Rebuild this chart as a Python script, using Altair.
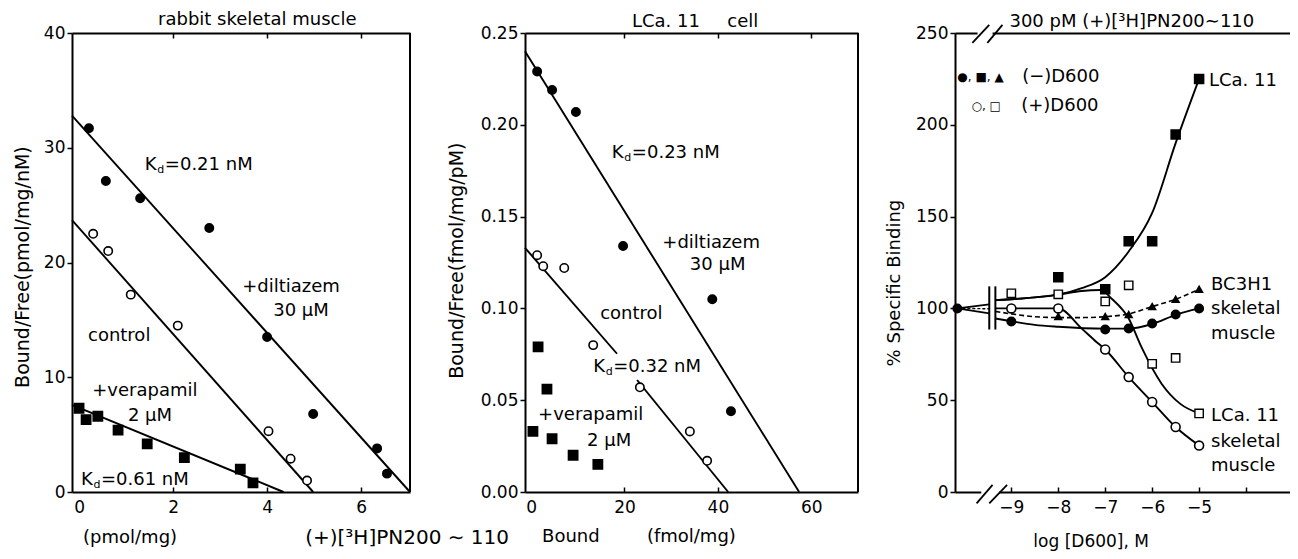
import altair as alt
import pandas as pd

FONT = "DejaVu Sans"
W, H = 1282, 543
Y_RANGE = [484, 25]

# ===================== DATA =====================
# --- left panel: rabbit skeletal muscle (Scatchard) ---
L_dil_x = [0.21, 0.57, 1.30, 2.77, 4.00, 4.98, 6.34, 6.55]
L_dil_y = [31.7, 27.1, 25.6, 23.0, 13.5, 6.8, 3.8, 1.6]
L_ctl_x = [0.30, 0.62, 1.10, 2.10, 4.03, 4.50, 4.85]
L_ctl_y = [22.5, 21.0, 17.2, 14.5, 5.3, 2.9, 1.0]
L_ver_x = [0.00, 0.15, 0.40, 0.83, 1.45, 2.24, 3.43, 3.70]
L_ver_y = [7.3, 6.3, 6.6, 5.4, 4.2, 3.0, 2.0, 0.8]
L_fit_dil = ([-0.15, 7.04], [32.8, 0.0])
L_fit_ctl = ([-0.15, 4.98], [23.7, 0.0])
L_fit_ver = ([-0.15, 4.35], [7.6, 0.0])
L_kd = ["=0.21 nM", "=0.61 nM"]

# --- middle panel: LCa. 11 cell (Scatchard) ---
M_dil_x = [1.3, 4.5, 9.6, 19.7, 38.8, 42.8]
M_dil_y = [0.229, 0.219, 0.207, 0.134, 0.105, 0.044]
M_ctl_x = [1.3, 2.6, 7.1, 13.3, 23.3, 34.0, 37.7]
M_ctl_y = [0.129, 0.123, 0.122, 0.080, 0.057, 0.033, 0.017]
M_ver_x = [0.4, 1.5, 3.4, 4.5, 9.0, 14.3]
M_ver_y = [0.033, 0.079, 0.056, 0.029, 0.020, 0.015]
M_fit_dil = ([-1.3, 57.4], [0.240, 0.0])
M_fit_ctl_a = ([-1.3, 18.4], [0.133, 0.0753])
M_fit_ctl_b = ([22.7, 42.2], [0.061, 0.0])
M_kd = ["=0.23 nM", "=0.32 nM"]

# --- right panel: % specific binding vs log[D600] ---
R_ctrl_x = [-10.15]
R_ctrl_y = [100]
R_skm_minus_x = [-9, -7, -6.5, -6, -5.5, -5]
R_skm_minus_y = [92.9, 88.5, 89.0, 91.8, 96.7, 100.0]
R_bc3_x = [-8, -7, -6.5, -6, -5.5, -5]
R_bc3_y = [95.6, 95.6, 96.7, 101.0, 105.0, 110.4]
R_lca_minus_x = [-8, -7, -6.5, -6, -5.5, -5]
R_lca_minus_y = [117.0, 110.4, 136.6, 136.6, 194.7, 225.0]
R_lca_plus_x = [-9, -8, -7, -6.5, -6, -5.5, -5]
R_lca_plus_y = [108.2, 107.7, 103.8, 112.6, 69.8, 73.0, 42.8]
R_skm_plus_x = [-9, -8, -7, -6.5, -6, -5.5, -5]
R_skm_plus_y = [100.0, 100.0, 77.6, 62.6, 49.0, 35.4, 25.3]
# fitted curves
R_c_lca_minus = ([-9.34, -9, -8.5, -8, -7.5, -7, -6.5, -6, -5.5, -5],
                 [104.5, 105, 106, 107.5, 111, 117, 131, 152, 190, 225])
R_c_lca_plus = ([-9.34, -9, -8.5, -8, -7.5, -7.1, -6.85, -6.5, -6.23, -5.8, -5.4, -5],
                [104.5, 105, 106, 107.5, 109.5, 110, 105, 94.5, 79, 59, 48, 42.8])
R_c_skm_plus = ([-9.34, -9, -8, -7.5, -7.2, -7, -6.5, -6, -5.5, -5],
                [100, 100, 100, 89, 82, 77.6, 62.6, 49, 35.4, 25.3])
R_c_skm_minus = ([-9.34, -9, -8.5, -8, -7, -6.5, -6, -5.5, -5],
                 [94.5, 93, 91, 90, 89, 89, 91.5, 96.5, 100])
R_c_bc3 = ([-9.34, -9, -8.5, -8, -7.5, -7, -6.5, -6, -5.5, -5],
           [98.4, 97, 95.5, 95, 95, 95.5, 97, 101, 105, 110.4])
R_fan_solid = [([-10.15, -9.47], [100, 102.2]), ([-10.15, -9.47], [100, 97.3])]
R_fan_dash = [([-10.15, -9.47], [100, 99.8])]
R_break_bars_x = [-9.47, -9.34]
R_break_bars_y = [88.5, 112.0]
R_top_slash = [([-9.83, -9.47], [244.6, 254.4]), ([-9.51, -9.19], [244.6, 254.4])]
R_bot_slash = [([-9.74, -9.40], [-6.2, 3.9]), ([-9.47, -9.09], [-6.2, 3.9])]
R_top_gap = ([-9.72, -9.40], [250, 250])
R_bot_gap = ([-9.64, -9.26], [0, 0])

# tick values
L_xt, L_yt = [0, 2, 4, 6], [0, 10, 20, 30, 40]
M_xt, M_yt = [0, 20, 40, 60], [0, 0.05, 0.10, 0.15, 0.20, 0.25]
R_xt, R_xticks, R_yt = [-9, -8, -7, -6, -5], [-9, -8, -7, -6, -5, -4], [0, 50, 100, 150, 200, 250]


# ===================== HELPERS =====================
def sc(domain, rng):
    return alt.Scale(domain=domain, range=rng, nice=False, zero=False)


def XY(P, xf="x", yf="y"):
    xs, ys, xa, ya = P
    return {"x": alt.X(f"{xf}:Q", scale=xs, axis=xa), "y": alt.Y(f"{yf}:Q", scale=ys, axis=ya)}


def points(x, y, shape, filled, size, P, sw=1.6):
    df = pd.DataFrame({"x": x, "y": y})
    return alt.Chart(df).mark_point(shape=shape, filled=True, fill="black" if filled else "white",
                                    stroke="black", strokeWidth=sw, size=size, opacity=1).encode(**XY(P))


def lines(segs, P, dash=None, interp="linear", width=1.9, color="black"):
    rows = []
    for i, (xs_, ys_) in enumerate(segs):
        for a, b in zip(xs_, ys_):
            rows.append({"x": a, "y": b, "seg": i})
    kw = dict(color=color, strokeWidth=width, interpolate=interp)
    if dash:
        kw["strokeDash"] = dash
    return alt.Chart(pd.DataFrame(rows)).mark_line(**kw).encode(**XY(P), detail="seg:N")


def texts(x, y, t, P, size=18, align="left", angle=0, dx=0, dy=0):
    df = pd.DataFrame({"x": x, "y": y, "t": t})
    kw = dict(align=align, baseline="middle", font=FONT, fontSize=size, color="black", dx=dx, dy=dy)
    if angle:
        kw["angle"] = angle
    return alt.Chart(df).mark_text(**kw).encode(**XY(P), text="t:N")


def kd(x, y, vals, P):
    return [texts(x, y, ["K"] * len(x), P),
            texts(x, y, ["d"] * len(x), P, size=11, dx=12.5, dy=5),
            texts(x, y, vals, P, dx=20)]


def bottom_axis(values, fmt=None, expr=None):
    kw = dict(orient="bottom", offset=-(H - Y_RANGE[0]), values=values, ticks=False,
              labelPadding=7, title=None, grid=False)
    if fmt:
        kw["format"] = fmt
    if expr:
        kw["labelExpr"] = expr
    return alt.Axis(**kw)


def left_axis(values, pos, fmt=None):
    kw = dict(orient="left", offset=-pos, values=values, tickSize=5, labelPadding=2,
              title=None, grid=False)
    if fmt:
        kw["format"] = fmt
    return alt.Axis(**kw)


def frame_top(xs, ys, xmax, ymax, ticks):
    # right border (rule) + top border (axis domain) with inward ticks
    df = pd.DataFrame({"x": [xmax], "y": [0], "y2": [ymax]})
    if ticks:
        ax = alt.Axis(orient="bottom", offset=-(H - Y_RANGE[1]), labels=False, title=None,
                      values=ticks, tickSize=5, grid=False)
    else:
        ax = alt.Axis(orient="bottom", offset=-(H - Y_RANGE[1]), labels=False, title=None,
                      ticks=False, grid=False)
    return alt.Chart(df).mark_rule(color="black", strokeWidth=2).encode(
        x=alt.X("x:Q", scale=xs, axis=ax), y=alt.Y("y:Q", scale=ys, axis=None), y2="y2:Q")


def frame_bot(xs, ys, ticks):
    # inward ticks on the bottom axis
    df = pd.DataFrame({"x": [ticks[0]], "y": [0]})
    ax = alt.Axis(orient="top", offset=-Y_RANGE[0], labels=False, domain=False, title=None,
                  values=ticks, tickSize=5, grid=False)
    return alt.Chart(df).mark_point(opacity=0).encode(
        x=alt.X("x:Q", scale=xs, axis=ax), y=alt.Y("y:Q", scale=ys, axis=None))


# ===================== LEFT PANEL =====================
LXd, LYd = [-0.15, 7.04], [0, 40]
LX, LY = sc(LXd, [64, 402]), sc(LYd, Y_RANGE)
PL = (LX, LY, bottom_axis(L_xt), left_axis(L_yt, 64))
left = alt.layer(
    lines([L_fit_dil, L_fit_ctl, L_fit_ver], PL),
    points(L_dil_x, L_dil_y, "circle", True, 70, PL),
    points(L_ctl_x, L_ctl_y, "circle", False, 70, PL),
    points(L_ver_x, L_ver_y, "square", True, 85, PL),
    texts([1.68], [41.1], ["rabbit skeletal muscle"], PL, size=18),
    *kd([1.40, 0.04], [28.5, 1.07], L_kd, PL),
    texts([3.47, 4.13, 0.19, 0.28, 1.04], [17.9, 15.8, 13.6, 8.84, 6.6],
          ["+diltiazem", "30 μM", "control", "+verapamil", "2 μM"], PL),
    texts([1.085], [-4.0], ["(pmol/mg)"], PL, align="center"),
    texts([4.81], [-4.0], ["(+)[³H]PN200 ∼ 110"], PL, size=20),
    texts([-1.20], [19.6], ["Bound/Free(pmol/mg/nM)"], PL, size=19, align="center", angle=270),
)
left_top = frame_top(sc(LXd, [64, 402]), sc(LYd, Y_RANGE), LXd[1], LYd[1], [2, 4, 6])
left_bot = frame_bot(sc(LXd, [64, 402]), sc(LYd, Y_RANGE), [2, 4, 6])

# ===================== MIDDLE PANEL =====================
MXd, MYd = [-1.3, 70], [0, 0.25]
MX, MY = sc(MXd, [517, 850]), sc(MYd, Y_RANGE)
PM = (MX, MY, bottom_axis(M_xt), left_axis(M_yt, 517, fmt=".2f"))
middle = alt.layer(
    lines([M_fit_dil, M_fit_ctl_a, M_fit_ctl_b], PM),
    points(M_dil_x, M_dil_y, "circle", True, 70, PM),
    points(M_ctl_x, M_ctl_y, "circle", False, 70, PM),
    points(M_ver_x, M_ver_y, "square", True, 85, PM),
    texts([21.6, 42.0], [0.2559, 0.2559], ["LCa. 11", "cell"], PM, size=18),
    *kd([17.3, 13.3], [0.1846, 0.0681], M_kd, PM),
    texts([28.1, 34.0, 14.8, 1.5, 12.0], [0.1356, 0.1239, 0.0967, 0.0417, 0.0278],
          ["+diltiazem", "30 μM", "control", "+verapamil", "2 μM"], PM),
    texts([2.36, 24.8], [-0.0244, -0.0244], ["Bound", "(fmol/mg)"], PM),
    texts([-15.8], [0.126], ["Bound/Free(fmol/mg/pM)"], PM, size=19, align="center", angle=270),
)
mid_top = frame_top(sc(MXd, [517, 850]), sc(MYd, Y_RANGE), MXd[1], MYd[1], [20, 40, 60])
mid_bot = frame_bot(sc(MXd, [517, 850]), sc(MYd, Y_RANGE), [20, 40])

# ===================== RIGHT PANEL =====================
RXd, RYd = [-10.2, -3.0], [0, 250]
RX, RY = sc(RXd, [947, 1285]), sc(RYd, Y_RANGE)
PR = (RX, RY,
      bottom_axis(R_xt, expr="'−' + format(abs(datum.value), 'd')"),
      left_axis(R_yt, 947))
right = alt.layer(
    lines([R_top_gap, R_bot_gap], PR, width=5, color="white"),
    lines(R_top_slash + R_bot_slash, PR, width=1.8),
    lines(R_fan_solid, PR, width=1.6),
    lines(R_fan_dash, PR, width=1.4, dash=[3, 2]),
    lines([([R_break_bars_x[0]] * 2, R_break_bars_y), ([R_break_bars_x[1]] * 2, R_break_bars_y)], PR, width=2),
    lines([R_c_lca_minus, R_c_lca_plus, R_c_skm_minus], PR, interp="monotone"),
    lines([R_c_skm_plus], PR, interp="monotone"),
    lines([R_c_bc3], PR, interp="monotone", dash=[5, 3], width=1.6),
    points(R_ctrl_x, R_ctrl_y, "circle", True, 70, PR),
    points(R_skm_minus_x, R_skm_minus_y, "circle", True, 70, PR),
    points(R_bc3_x, R_bc3_y, "triangle-up", True, 45, PR),
    points(R_lca_minus_x, R_lca_minus_y, "square", True, 80, PR),
    points(R_lca_plus_x, R_lca_plus_y, "square", False, 70, PR, sw=1.4),
    points(R_skm_plus_x, R_skm_plus_y, "circle", False, 80, PR),
    texts([-9.04], [255.9], ["300 pM (+)[³H]PN200∼110"], PR, size=18),
    texts([-10.15, -9.85], [226, 210], ["●, ■, ▲", "○, □"], PR, size=12),
    texts([-8.77, -8.79], [226, 210], ["(−)D600", "(+)D600"], PR),
    texts([-4.79, -4.745, -4.745, -4.745, -4.745, -4.745, -4.745],
          [224, 112.8, 99.5, 86.3, 41.6, 27.5, 14.0],
          ["LCa. 11", "BC3H1", "skeletal", "muscle", "LCa. 11", "skeletal", "muscle"], PR),
    texts([-7.3], [-27.0], ["log [D600], M"], PR, size=17, align="center"),
    texts([-11.47], [113.8], ["% Specific Binding"], PR, size=18, align="center", angle=270),
)
right_top = frame_top(sc(RXd, [947, 1285]), sc(RYd, Y_RANGE), RXd[1], RYd[1], None)
right_bot = frame_bot(sc(RXd, [947, 1285]), sc(RYd, Y_RANGE), R_xticks)

chart = alt.layer(
    left_top, left_bot, mid_top, mid_bot, right_top, right_bot, left, middle, right
).resolve_scale(x="independent", y="independent").resolve_axis(
    x="independent", y="independent"
).properties(
    width=W, height=H, padding=0, autosize=alt.AutoSizeParams(type="none")
).configure_view(stroke=None).configure_axis(
    labelFont=FONT, labelFontSize=17, labelColor="black", domainColor="black",
    tickColor="black", domainWidth=2, tickWidth=1.5, labelFlush=False, labelOverlap=False, grid=False
)

chart.save("out.html", embed_options={"renderer": "svg", "actions": False})
